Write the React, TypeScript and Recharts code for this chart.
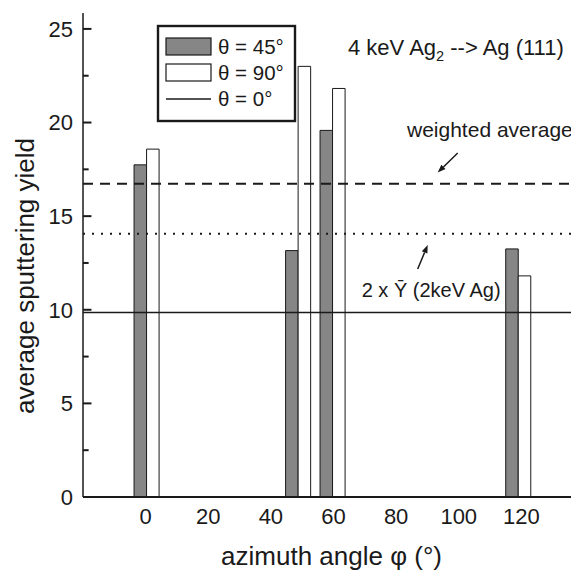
import { ComposedChart, Customized, ReferenceArea, ReferenceLine, XAxis, YAxis } from "recharts";

// azimuth where the grey (θ=45°) bar ends and the white (θ=90°) bar starts
const barSplit = [0.3, 48.7, 59.7, 119.0];
const yieldTheta45 = [17.74, 13.16, 19.58, 13.25];
const yieldTheta90 = [18.58, 23.0, 21.82, 11.81];

const weightedAverage = 16.73;
const twiceYAg2keV = 14.06;
const yieldTheta0 = 9.85;

const xTicks = [0, 20, 40, 60, 80, 100, 120];
const yTicks = [0, 5, 10, 15, 20, 25];
const yMinorTicks = [2.5, 7.5, 12.5, 17.5, 22.5];

const legendItems = [
  { label: "θ = 45°", kind: "grey" },
  { label: "θ = 90°", kind: "white" },
  { label: "θ = 0°", kind: "line" },
];

const X_MIN = -20;
const X_MAX = 140;
const BAR_W = 4;
const TICK_MAJOR = 2.7; // in degrees of the x scale (~8 px)
const TICK_MINOR = 1.8;
const GREY = "#868686";
const INK = "#1a1a1a";
const FONT = "'Liberation Sans', Arial, sans-serif";

const rows = barSplit.map((s, i) => ({ s, g: yieldTheta45[i], w: yieldTheta90[i] }));

function Arrow({ x1, y1, x2, y2 }: { x1: number; y1: number; x2: number; y2: number }) {
  const a = Math.atan2(y2 - y1, x2 - x1);
  const L = 8;
  const W = 3;
  const bx = x2 - L * Math.cos(a);
  const by = y2 - L * Math.sin(a);
  const px = -Math.sin(a) * W;
  const py = Math.cos(a) * W;
  return (
    <g>
      <line x1={x1} y1={y1} x2={bx} y2={by} stroke={INK} strokeWidth={1.5} />
      <polygon points={`${x2},${y2} ${bx + px},${by + py} ${bx - px},${by - py}`} fill={INK} />
    </g>
  );
}

function Annotations() {
  return (
    <g fontFamily={FONT} fill={INK}>
      <rect x={150} y={18} width={137} height={95} fill="#fff" stroke={INK} strokeWidth={2.4} />
      {legendItems.map((it, i) => {
        const cy = [38.5, 64.5, 91][i];
        return (
          <g key={it.label}>
            {it.kind === "line" ? (
              <line x1={158} x2={203} y1={cy} y2={cy} stroke={INK} strokeWidth={1.6} />
            ) : (
              <rect x={158} y={cy - 8.5} width={45} height={17} fill={it.kind === "grey" ? GREY : "#fff"} stroke={INK} strokeWidth={1.2} />
            )}
            <text x={210} y={cy} dy="0.35em" fontSize={20.5}>
              {it.label}
            </text>
          </g>
        );
      })}
      <text x={340} y={39} dy="0.35em" fontSize={22}>
        4 keV Ag<tspan fontSize={14.5} dy="6">2</tspan>
        <tspan dy="-6"> --&gt; Ag (111)</tspan>
      </text>
      <text x={399} y={122} dy="0.35em" fontSize={21}>
        weighted average
      </text>
      <Arrow x1={449.7} y1={145} x2={429.7} y2={164.5} />
      <Arrow x1={409.7} y1={261} x2={419.7} y2={237} />
      <text x={353.7} y={282} dy="0.35em" fontSize={20}>
        2 x Ȳ (2keV Ag)
      </text>
      <text x={323.5} y={548} dy="0.35em" fontSize={26} textAnchor="middle">
        azimuth angle φ (°)
      </text>
      <text x={17} y={268} dy="0.35em" fontSize={26} textAnchor="middle" transform="rotate(-90 17 268)">
        average sputtering yield
      </text>
    </g>
  );
}

export default function App() {
  return (
    <div style={{ width: 571, height: 563, overflow: "hidden", position: "relative" }}>
      <ComposedChart width={600} height={563} data={rows} margin={{ top: 5, right: 24, bottom: 0, left: 0 }}>
        <XAxis
          type="number"
          dataKey="s"
          domain={[X_MIN, X_MAX]}
          ticks={xTicks}
          height={74}
          tickLine={false}
          tickSize={0}
          tickMargin={11}
          axisLine={{ stroke: INK, strokeWidth: 2 }}
          tick={{ fontSize: 22, fill: INK, fontFamily: FONT }}
          allowDataOverflow
        />
        <XAxis
          xAxisId="top"
          orientation="top"
          type="number"
          domain={[X_MIN, X_MAX]}
          height={0}
          tick={false}
          tickLine={false}
          axisLine={{ stroke: INK, strokeWidth: 1.5 }}
        />
        <YAxis
          type="number"
          domain={[0, 25.85]}
          ticks={yTicks}
          width={75}
          tickLine={false}
          tickSize={0}
          tickMargin={10}
          axisLine={{ stroke: INK, strokeWidth: 1.5 }}
          tick={{ fontSize: 22, fill: INK, fontFamily: FONT }}
          allowDataOverflow
          interval={0}
        />
        <YAxis
          yAxisId="right"
          orientation="right"
          type="number"
          domain={[0, 25.85]}
          ticks={yTicks}
          width={0}
          tick={false}
          tickLine={false}
          axisLine={{ stroke: INK, strokeWidth: 1.5 }}
        />
        {yTicks.map((v) => (
          <ReferenceLine key={"lt" + v} segment={[{ x: X_MIN, y: v }, { x: X_MIN + TICK_MAJOR, y: v }]} stroke={INK} strokeWidth={2} />
        ))}
        {yMinorTicks.map((v) => (
          <ReferenceLine key={"lm" + v} segment={[{ x: X_MIN, y: v }, { x: X_MIN + TICK_MINOR, y: v }]} stroke={INK} strokeWidth={2} />
        ))}
        {yTicks.map((v) => (
          <ReferenceLine key={"rt" + v} segment={[{ x: X_MAX - TICK_MAJOR, y: v }, { x: X_MAX, y: v }]} stroke={INK} strokeWidth={2} />
        ))}
        {yMinorTicks.map((v) => (
          <ReferenceLine key={"rm" + v} segment={[{ x: X_MAX - TICK_MINOR, y: v }, { x: X_MAX, y: v }]} stroke={INK} strokeWidth={2} />
        ))}
        <ReferenceLine y={weightedAverage} stroke={INK} strokeWidth={2} strokeDasharray="10 7" />
        <ReferenceLine y={twiceYAg2keV} stroke={INK} strokeWidth={2} strokeDasharray="2 7" />
        {rows.map((r, i) => (
          <ReferenceArea
            key={"g" + i}
            x1={r.s - BAR_W}
            x2={r.s}
            y1={0}
            y2={r.g}
            fill={GREY}
            fillOpacity={1}
            stroke={INK}
            strokeWidth={1}
          />
        ))}
        {rows.map((r, i) => (
          <ReferenceArea
            key={"w" + i}
            x1={r.s}
            x2={r.s + BAR_W}
            y1={0}
            y2={r.w}
            fill="#fff"
            fillOpacity={1}
            stroke={INK}
            strokeWidth={1}
          />
        ))}
        <ReferenceLine y={yieldTheta0} stroke={INK} strokeWidth={1.5} />
        <Customized component={<Annotations />} />
      </ComposedChart>
    </div>
  );
}
